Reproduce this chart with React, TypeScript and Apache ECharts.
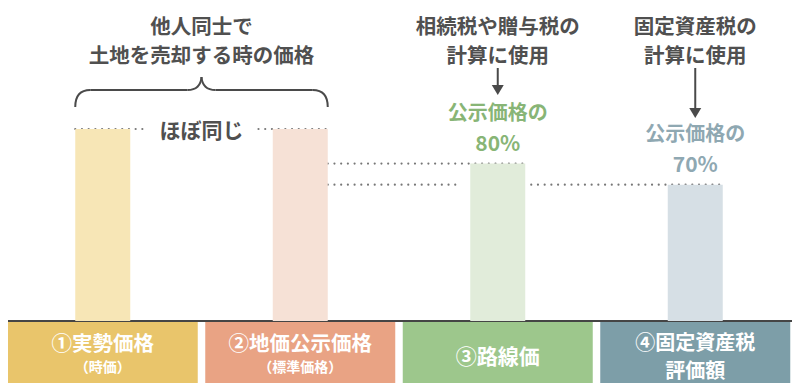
import React, { useEffect, useRef } from "react";
import * as echarts from "echarts";

const categories = ["①実勢価格", "②地価公示価格", "③路線価", "④固定資産税"];
const subLabels = ["（時価）", "（標準価格）", "", "評価額"];
const values = [100, 100, 82, 71];
const barColors = ["#F7E6B6", "#F6E1D6", "#E1ECDA", "#D6DFE5"];
const boxColors = ["#E9C56B", "#E9A384", "#9DC78C", "#7D9EA8"];
const topNotes = [
  ["他人同士で", "土地を売却する時の価格"],
  ["相続税や贈与税の", "計算に使用"],
  ["固定資産税の", "計算に使用"],
];
const ratioNotes = [
  ["公示価格の", "80%"],
  ["公示価格の", "70%"],
];
const ratioColors = ["#88B576", "#8FA8B2"];
const sameNote = "ほぼ同じ";

const FONT = '"Noto Sans CJK JP", "Noto Sans", sans-serif';
const DARK = "#505050";
const BAR_W = 55;

export default function App() {
  const ref = useRef<HTMLDivElement>(null);
  useEffect(() => {
    if (!ref.current) return;
    const chart = echarts.init(ref.current, null, { renderer: "svg" });
    const paddings = [
      [7, 0, 5, 0],
      [7, 0, 5, 0],
      [21, 0, 16, 0],
      [5, 0, 0, 0],
    ];
    chart.setOption({
      animation: false,
      grid: { left: 4, right: 6, top: 129, bottom: 71 },
      xAxis: {
        type: "category",
        data: categories.map((c, i) => ({
          value: c,
          textStyle: { backgroundColor: boxColors[i], padding: paddings[i] },
        })),
        axisLine: { show: true, lineStyle: { color: "#454545", width: 2 } },
        axisTick: { show: false },
        axisLabel: {
          interval: 0,
          margin: 1,
          width: 190,
          overflow: "none",
          color: "#fff",
          fontFamily: FONT,
          formatter: (v: string, i: number) => {
            const s = subLabels[i];
            if (!s) return `{o|${v}}`;
            if (i === 3) return `{t|${v}}\n{t|${s}}`;
            return `{m|${v}}\n{s|${s}}`;
          },
          rich: {
            o: { fontSize: 21, fontWeight: "bold", color: "#fff", lineHeight: 24, fontFamily: FONT },
            m: { fontSize: 20.5, fontWeight: "bold", color: "#fff", lineHeight: 25, fontFamily: FONT },
            t: { fontSize: 20, fontWeight: "bold", color: "#fff", lineHeight: 28, fontFamily: FONT },
            s: { fontSize: 14, fontWeight: "bold", color: "#fff", lineHeight: 24, fontFamily: FONT },
          },
        },
        splitLine: { show: false },
      },
      yAxis: { type: "value", min: 0, max: 100, show: false, splitLine: { show: false } },
      series: [
        {
          type: "bar",
          barWidth: BAR_W,
          data: values.map((v, i) => ({ value: v, itemStyle: { color: barColors[i] } })),
          z: 3,
        },
      ],
    });

    const px = values.map((v, i) => chart.convertToPixel({ seriesIndex: 0 }, [i, v]) as number[]);
    const cx = px.map((p) => p[0]);
    const ty = px.map((p) => p[1]);
    const half = BAR_W / 2;

    const textEl = (text: string, x: number, y: number, color: string, size: number) => ({
      type: "text",
      x,
      y,
      z: 10,
      style: {
        text,
        fill: color,
        fontSize: size,
        fontWeight: "bold",
        fontFamily: FONT,
        align: "center",
        verticalAlign: "middle",
      },
    });
    const dotted = (x1: number, x2: number, y: number) => ({
      type: "line",
      z: 1,
      shape: { x1, y1: y, x2, y2: y },
      style: { stroke: "#777", lineWidth: 2.2, lineDash: [0.01, 6.7], lineCap: "round" },
    });
    const arrow = (x: number, y1: number, tip: number) => [
      { type: "line", z: 10, shape: { x1: x, y1, x2: x, y2: tip - 6 }, style: { stroke: "#4a4a4a", lineWidth: 2 } },
      {
        type: "polygon",
        z: 10,
        shape: { points: [[x - 6, tip - 10], [x + 6, tip - 10], [x, tip]] },
        style: { fill: "#4a4a4a" },
      },
    ];
    const bz = (x1: number, y1: number, cpx1: number, cpy1: number, x2: number, y2: number) => ({
      type: "bezierCurve",
      z: 10,
      shape: { x1, y1, x2, y2, cpx1, cpy1 },
      style: { stroke: "#4a4a4a", lineWidth: 2, fill: null },
    });
    const ln = (x1: number, y1: number, x2: number, y2: number) => ({
      type: "line",
      z: 10,
      shape: { x1, y1, x2, y2 },
      style: { stroke: "#4a4a4a", lineWidth: 2 },
    });

    const midX = (cx[0] + cx[1]) / 2;
    const bL = cx[0] - half;
    const bR = cx[1] + half;
    const tip = 77;
    const hy = 90;
    const endY = 107;
    const noteX = [midX, cx[2], cx[3]];

    const graphics: any[] = [];
    topNotes.forEach((lines, k) => {
      graphics.push(textEl(lines[0], noteX[k], 25, DARK, 20.5));
      graphics.push(textEl(lines[1], noteX[k], 54, DARK, 20.5));
    });
    graphics.push(...arrow(cx[2], 68, 95), ...arrow(cx[3], 68, 118));
    ratioNotes.forEach((lines, k) => {
      const i = k + 2;
      graphics.push(textEl(lines[0], cx[i], ty[i] - 52, ratioColors[k], 20));
      graphics.push(textEl(lines[1], cx[i], ty[i] - 22, ratioColors[k], 21));
    });
    graphics.push(
      textEl(sameNote, midX, ty[0], DARK, 21),
      // brace
      bz(bL, endY, bL, hy, bL + 15, hy),
      ln(bL + 15, hy, midX - 14, hy),
      bz(midX - 14, hy, midX - 1, hy, midX, tip),
      bz(midX, tip, midX + 1, hy, midX + 14, hy),
      ln(midX + 14, hy, bR - 15, hy),
      bz(bR - 15, hy, bR, hy, bR, endY),
      // dotted guides
      dotted(bL, midX - 57, ty[0]),
      dotted(midX + 57, bR, ty[0]),
      dotted(bR, cx[2] + half, ty[2]),
      dotted(bR, cx[2] - half - 10, ty[3]),
      dotted(cx[2] + half + 6, cx[3] + half, ty[3])
    );
    chart.setOption({ graphic: graphics });

    return () => chart.dispose();
  }, []);
  return <div ref={ref} style={{ width: 800, height: 392, margin: -8 }} />;
}
